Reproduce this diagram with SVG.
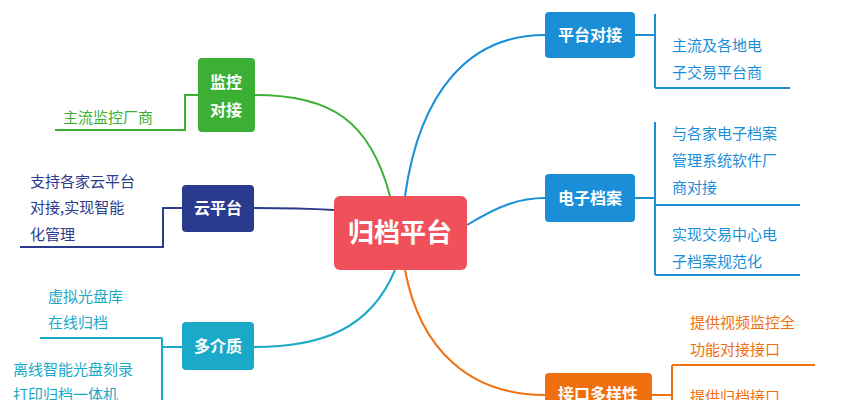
<svg xmlns="http://www.w3.org/2000/svg" width="842" height="400" viewBox="0 0 842 400">
<style>
.n{font-family:"Noto Sans CJK SC","Noto Sans",sans-serif;font-weight:bold;fill:#fff;font-size:16px;text-anchor:middle}
.t{font-family:"Noto Sans CJK SC","Noto Sans",sans-serif;font-size:15px}
path{fill:none;stroke-width:2}
</style>
<rect width="842" height="400" fill="#fff"/>
<g id="connectors">
<path d="M405 196 C420 90 470 35 545 35" stroke="#1a8fd8"/>
<path d="M467 225 C500 205 520 198 545 198" stroke="#1a8fd8"/>
<path d="M405 270 C420 350 470 395 545 395" stroke="#f07010"/>
<path d="M390 196 C370 120 330 95 255 95" stroke="#3cb034"/>
<path d="M334 210 C300 208 280 208 254 208" stroke="#2a3a8c"/>
<path d="M395 270 C370 330 320 347 254 347" stroke="#1aa9c8"/>
<g stroke-width="1.5">
<path d="M635 35 H655 M655 14 V88 M655 88 H790" stroke="#1a8fd8"/>
<path d="M635 198 H655 M655 122 V275 M655 205 H800 M655 275 H800" stroke="#1a8fd8"/>
<path d="M198 95 H185 V130 H55" stroke="#3cb034"/>
<path d="M182 208 H163 V247 H20" stroke="#2a3a8c"/>
<path d="M182 347 H162 V400 M162 338 V347 M162 338 H40" stroke="#1aa9c8"/>
<path d="M652 395 H672 M672 365 V400 M672 365 H815" stroke="#f07010"/>
</g>
</g>
<g id="center"><rect x="334" y="196" width="133" height="74" rx="6" fill="#f0505a"/><text x="400" y="242" class="n" style="font-size:26px">归档平台</text></g>
<g id="n1"><rect x="545" y="12" width="90" height="46" rx="4" fill="#1a8fd8"/><text x="590" y="41" class="n">平台对接</text></g>
<g id="n1t" fill="#1a8fd8" class="t"><text x="672" y="51" class="t" fill="#1a8fd8">主流及各地电</text><text x="672" y="78" class="t" fill="#1a8fd8">子交易平台商</text></g>
<g id="n2"><rect x="545" y="174" width="90" height="48" rx="4" fill="#1a8fd8"/><text x="590" y="204" class="n">电子档案</text></g>
<g id="n2t"><text x="672" y="139" class="t" fill="#1a8fd8">与各家电子档案</text><text x="672" y="166" class="t" fill="#1a8fd8">管理系统软件厂</text><text x="672" y="193" class="t" fill="#1a8fd8">商对接</text><text x="672" y="240" class="t" fill="#1a8fd8">实现交易中心电</text><text x="672" y="267" class="t" fill="#1a8fd8">子档案规范化</text></g>
<g id="n3"><rect x="198" y="58" width="57" height="74" rx="4" fill="#3cb034"/><text x="226" y="88" class="n">监控</text><text x="226" y="116" class="n">对接</text></g>
<g id="n3t"><text x="63" y="123" class="t" fill="#3cb034">主流监控厂商</text></g>
<g id="n4"><rect x="182" y="185" width="72" height="47" rx="4" fill="#2a3a8c"/><text x="218" y="214" class="n">云平台</text></g>
<g id="n4t"><text x="30" y="187" class="t" fill="#2a3a8c">支持各家云平台</text><text x="30" y="213" class="t" fill="#2a3a8c">对接,实现智能</text><text x="30" y="240" class="t" fill="#2a3a8c">化管理</text></g>
<g id="n5"><rect x="182" y="322" width="72" height="48" rx="4" fill="#1aa9c8"/><text x="218" y="352" class="n">多介质</text></g>
<g id="n5t"><text x="48" y="302" class="t" fill="#1aa9c8">虚拟光盘库</text><text x="48" y="328" class="t" fill="#1aa9c8">在线归档</text><text x="13" y="375" class="t" fill="#1aa9c8">离线智能光盘刻录</text><text x="13" y="400" class="t" fill="#1aa9c8">打印归档一体机</text></g>
<g id="n6"><rect x="545" y="373" width="107" height="40" rx="4" fill="#f07010"/><text x="598" y="400" class="n">接口多样性</text></g>
<g id="n6t"><text x="690" y="328" class="t" fill="#f07010">提供视频监控全</text><text x="690" y="355" class="t" fill="#f07010">功能对接接口</text><text x="690" y="402" class="t" fill="#f07010">提供归档接口</text></g>
</svg>
